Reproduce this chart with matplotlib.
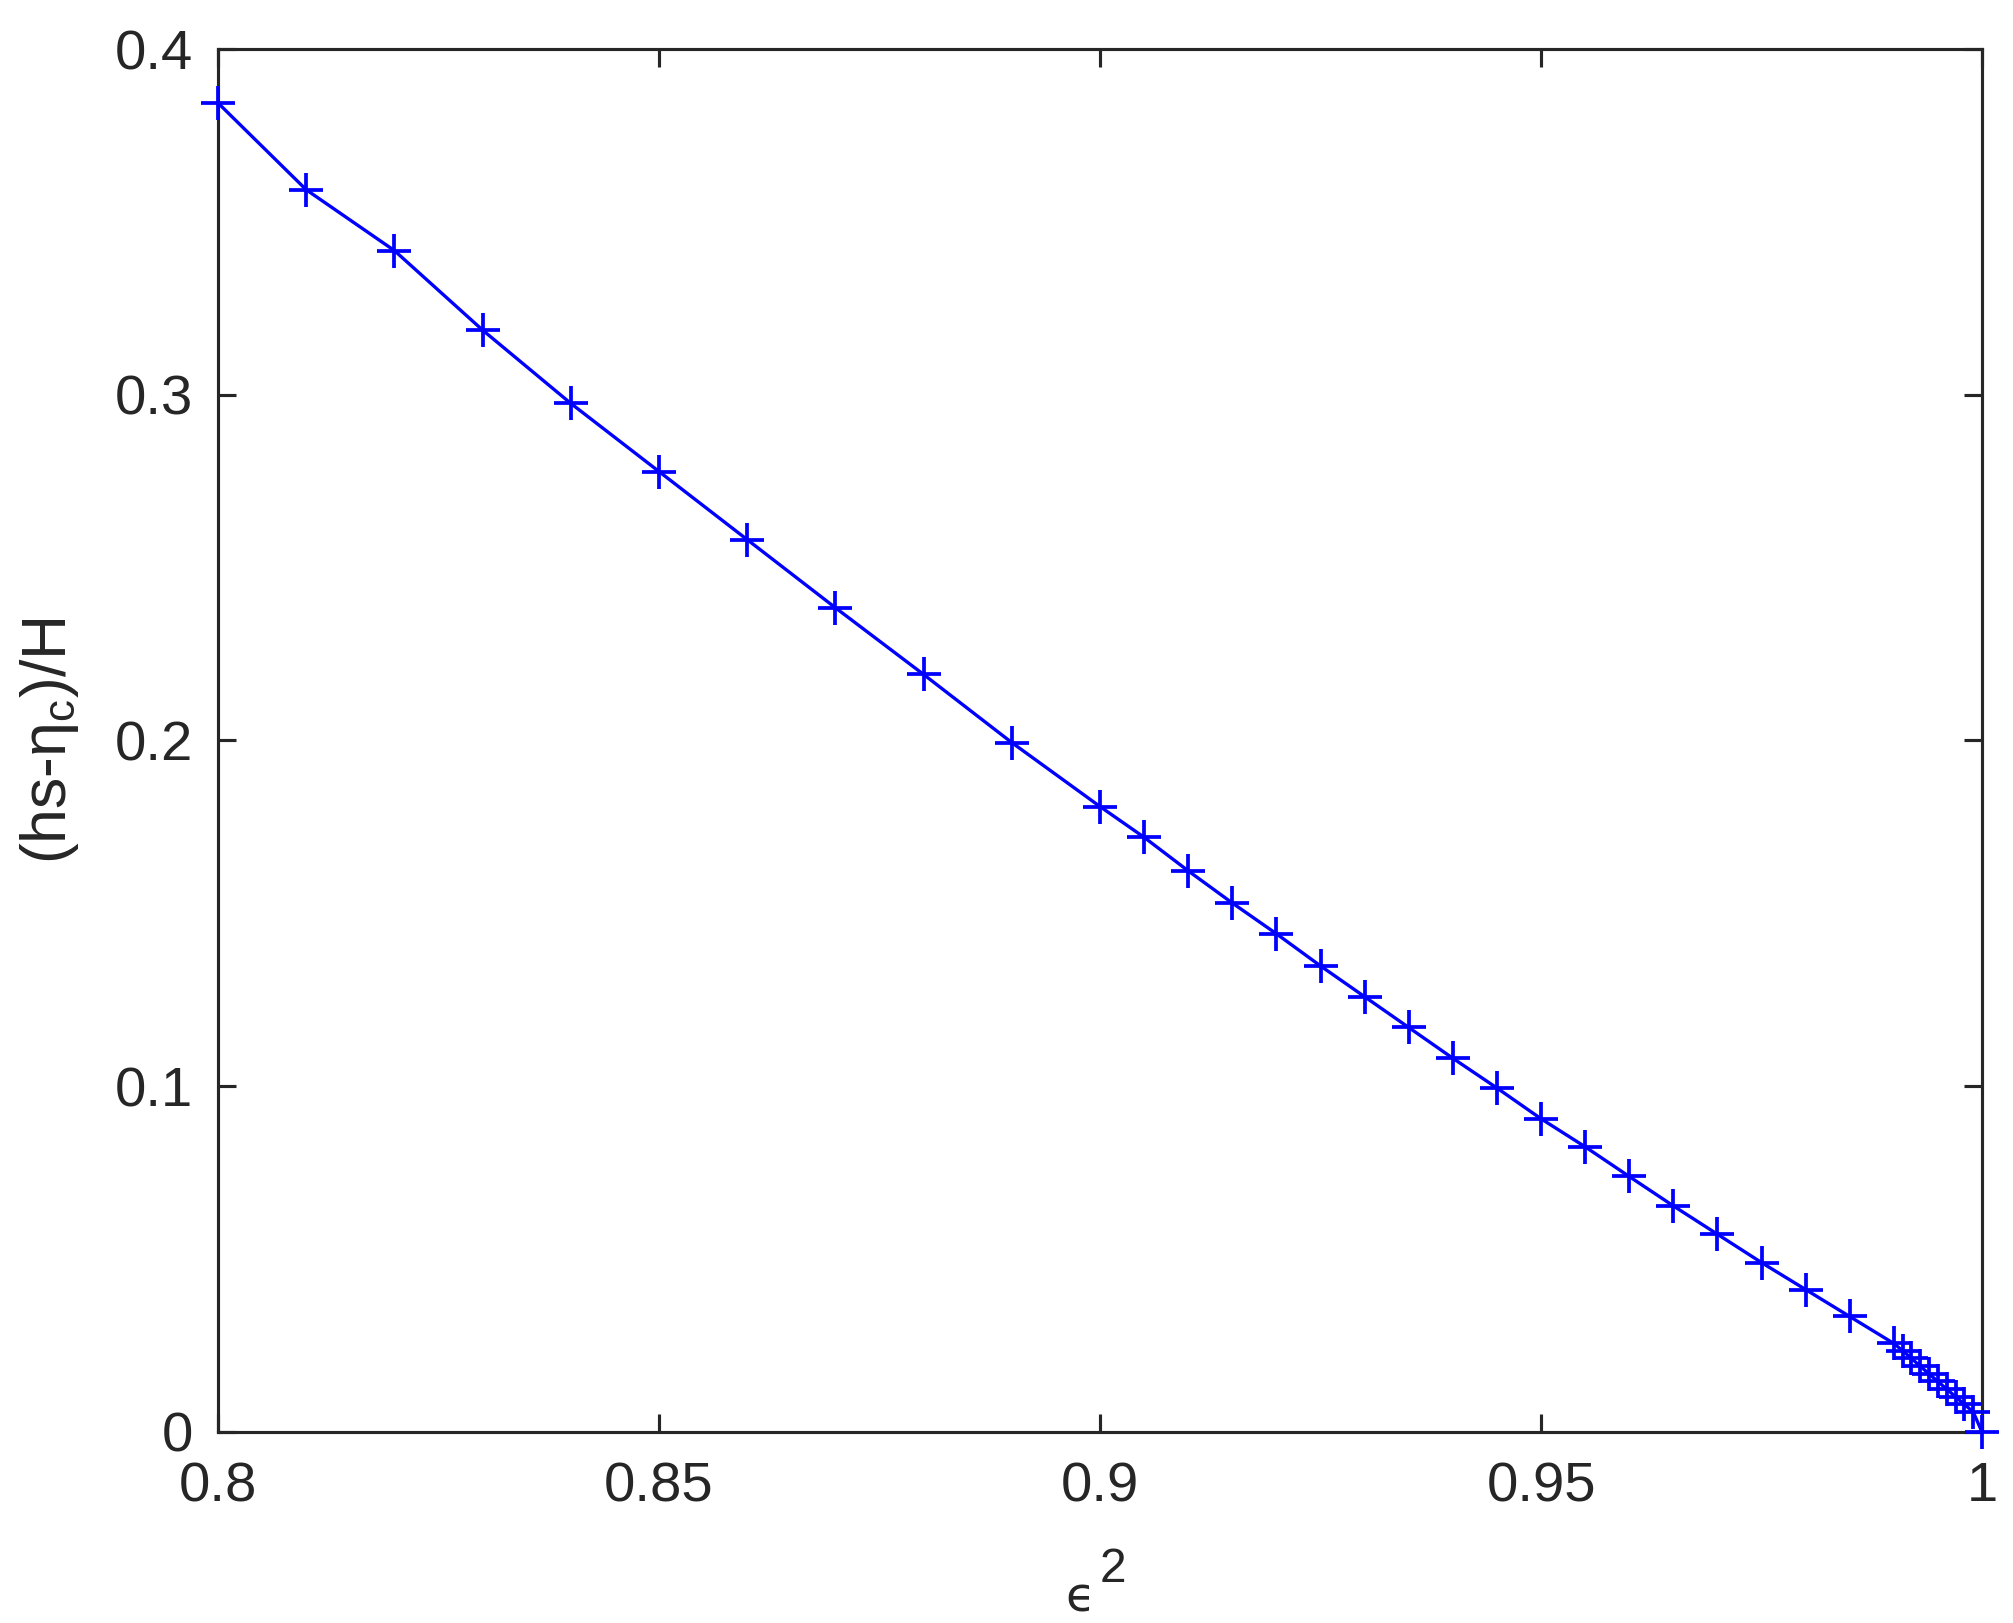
import matplotlib
matplotlib.use("Agg")
from matplotlib import pyplot as plt

# epsilon^2 values
eps2 = [0.80, 0.81, 0.82, 0.83, 0.84, 0.85, 0.86, 0.87, 0.88, 0.89,
        0.90, 0.905, 0.91, 0.915, 0.92, 0.925, 0.93, 0.935, 0.94, 0.945,
        0.95, 0.955, 0.96, 0.965, 0.97, 0.975, 0.98, 0.985,
        0.990, 0.991, 0.992, 0.993, 0.994, 0.995, 0.996, 0.997, 0.998, 0.999, 1.0]
# (hs - eta_c)/H
ratio = [0.3844, 0.3593, 0.3417, 0.3187, 0.2975, 0.2778, 0.2581, 0.2384, 0.2191, 0.1994,
         0.1809, 0.1720, 0.1623, 0.1530, 0.1441, 0.1348, 0.1259, 0.1170, 0.1081, 0.0995,
         0.0906, 0.0825, 0.0739, 0.0654, 0.0572, 0.0490, 0.0412, 0.0334,
         0.0256, 0.0235, 0.0213, 0.0190, 0.0168, 0.0146, 0.0124, 0.0102, 0.0080, 0.0058, 0.0]

xticks = [0.8, 0.85, 0.9, 0.95, 1]
xtick_labels = ['0.8', '0.85', '0.9', '0.95', '1']
yticks = [0, 0.1, 0.2, 0.3, 0.4]
ytick_labels = ['0', '0.1', '0.2', '0.3', '0.4']

plt.rcParams['font.family'] = ['Liberation Sans', 'DejaVu Sans']
plt.rcParams['mathtext.fontset'] = 'custom'
plt.rcParams['mathtext.rm'] = 'Liberation Sans'
plt.rcParams['mathtext.it'] = 'Liberation Sans:italic'

fig = plt.figure(figsize=(2013 / 300, 1623 / 300), dpi=300)
ax = fig.add_axes([0.1083, 0.1177, 0.8763, 0.8521])

ax.plot(eps2, ratio, color='#0000ff', linewidth=0.8, marker='+',
        markersize=8, markeredgewidth=0.9, clip_on=False, zorder=3)

ax.set_xlim(0.8, 1)
ax.set_ylim(0, 0.4)
ax.set_xticks(xticks)
ax.set_xticklabels(xtick_labels)
ax.set_yticks(yticks)
ax.set_yticklabels(ytick_labels)

ax.tick_params(direction='in', length=4.3, width=0.75, colors='#262626',
               labelsize=13.5, top=True, right=True, pad=6)
ax.tick_params(axis='x', pad=7)
for s in ax.spines.values():
    s.set_linewidth(0.75)
    s.set_color('#262626')

# x label: epsilon with a large superscript 2, as MATLAB draws it
ax.text(0.497, -0.130, '\u03f5', transform=ax.transAxes, ha='right', va='baseline',
        fontsize=11.5, color='#262626', family=['DejaVu Sans'])
ax.text(0.500, -0.1085, '2', transform=ax.transAxes, ha='left', va='baseline',
        fontsize=11.5, color='#262626')

ax.set_ylabel('(hs-\u03b7$_\\mathregular{c}$)/H', fontsize=15, color='#262626', labelpad=8,
              family=['Liberation Sans', 'DejaVu Sans'])

fig.savefig("out.png", dpi=300)
